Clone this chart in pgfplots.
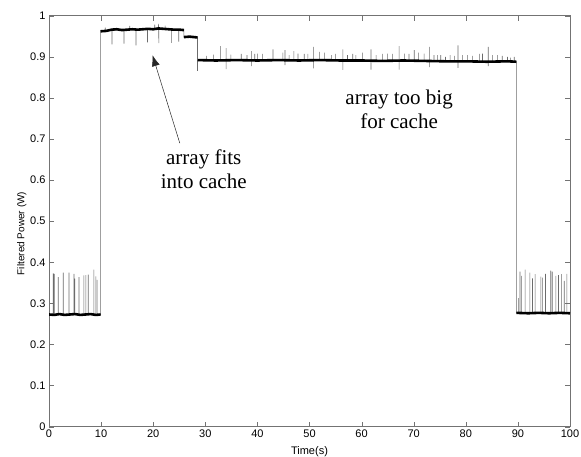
\documentclass[border=0pt]{standalone}
\usepackage{fontspec}
\setmainfont{Liberation Sans}
\newfontfamily\timesfont{Liberation Serif}
\usepackage{pgfplots}
\pgfplotsset{compat=1.18}
\usetikzlibrary{arrows.meta}

\begin{document}
\begin{tikzpicture}
\begin{axis}[
    width=521pt, height=411pt, scale only axis,
    xmin=0, xmax=100, ymin=0, ymax=1,
    xtick={0,10,20,30,40,50,60,70,80,90,100},
    ytick={0,0.1,0.2,0.3,0.4,0.5,0.6,0.7,0.8,0.9,1},
    /pgf/number format/assume math mode=true,
    tick label style={font=\fontsize{11}{13}\selectfont},
    axis line style={black!55},
    major tick style={black!55},
    major tick length=5pt,
    xlabel={Time(s)},
    ylabel={Filtered Power (W)},
    xlabel style={font=\fontsize{11}{13}\selectfont, at={(axis description cs:0.5,-0.0616)}, anchor=center},
    ylabel style={font=\fontsize{10}{12}\selectfont, at={(axis description cs:-0.052,0.47)}, anchor=center},
    unbounded coords=jump,
]

% raw trace: transitions and spikes (thin grey)
\addplot[black!58, line width=0.6pt] table {
x y
0 0.273
0.82 0.273
0.82 0.373
0.82 0.273
1.00 0.273
1.00 0.372
1.00 0.273
1.78 0.273
1.78 0.364
1.78 0.273
2.74 0.273
2.74 0.375
2.74 0.273
3.83 0.273
3.83 0.375
3.83 0.273
4.79 0.273
4.79 0.372
4.79 0.273
4.98 0.273
4.98 0.360
4.98 0.273
5.75 0.273
5.75 0.364
5.75 0.273
6.70 0.273
6.70 0.368
6.70 0.273
7.09 0.273
7.09 0.369
7.09 0.273
7.53 0.273
7.53 0.370
7.53 0.273
8.62 0.273
8.62 0.382
8.62 0.273
9.00 0.273
9.00 0.366
9.00 0.273
9.25 0.273
9.25 0.357
9.25 0.273
9.90 0.273
9.90 0.964
10.8 0.964
10.8 0.971
10.8 0.964
12.1 0.965
12.1 0.930
12.1 0.965
14.4 0.966
14.4 0.932
14.4 0.966
15.5 0.966
15.5 0.975
15.5 0.966
16.7 0.966
16.7 0.928
16.7 0.966
18.9 0.967
18.9 0.935
18.9 0.967
20.3 0.967
20.3 0.978
20.3 0.967
21.0 0.968
21.0 0.980
21.1 0.933
21.1 0.968
22.3 0.967
22.3 0.976
22.3 0.967
23.5 0.966
23.5 0.934
23.5 0.966
24.9 0.966
24.9 0.937
24.9 0.966
25.9 0.966
25.9 0.948
28.5 0.948
28.5 0.866
28.55 0.892
30.2 0.892
30.2 0.902
30.2 0.892
31.6 0.892
31.6 0.905
31.6 0.892
32.9 0.892
32.9 0.926
32.9 0.892
34.0 0.892
34.0 0.921
34.0 0.870
34.0 0.892
34.9 0.892
34.9 0.905
34.9 0.892
36.9 0.892
36.9 0.907
36.9 0.892
38.0 0.892
38.0 0.904
38.0 0.892
38.9 0.892
38.9 0.914
38.9 0.877
38.9 0.892
39.5 0.892
39.5 0.907
39.5 0.892
40.0 0.892
40.0 0.908
40.0 0.892
41.0 0.892
41.0 0.907
41.0 0.892
43.0 0.892
43.0 0.918
43.0 0.892
44.9 0.892
44.9 0.910
44.9 0.892
45.3 0.892
45.3 0.916
45.3 0.880
45.3 0.892
46.1 0.892
46.1 0.904
46.1 0.892
47.0 0.892
47.0 0.914
47.0 0.892
47.8 0.892
47.8 0.908
47.8 0.892
49.0 0.892
49.0 0.907
49.0 0.892
49.7 0.892
49.7 0.907
49.7 0.892
50.8 0.892
50.8 0.924
50.8 0.872
50.8 0.892
51.9 0.892
51.9 0.912
51.9 0.892
52.9 0.892
52.9 0.910
52.9 0.892
54.2 0.891
54.2 0.904
54.2 0.891
55.0 0.891
55.0 0.907
55.0 0.891
56.4 0.891
56.4 0.918
56.4 0.868
56.4 0.891
57.3 0.891
57.3 0.904
57.3 0.891
58.3 0.891
58.3 0.907
58.3 0.891
58.9 0.891
58.9 0.904
58.9 0.891
60.2 0.891
60.2 0.910
60.2 0.891
61.8 0.891
61.8 0.918
61.8 0.869
61.8 0.891
62.8 0.891
62.8 0.904
62.8 0.891
64.0 0.891
64.0 0.907
64.0 0.891
65.0 0.891
65.0 0.908
65.0 0.891
65.9 0.891
65.9 0.907
65.9 0.891
67.2 0.891
67.2 0.926
67.2 0.869
67.2 0.891
68.2 0.891
68.2 0.908
68.2 0.891
69.1 0.891
69.1 0.907
69.1 0.891
70.1 0.890
70.1 0.916
70.1 0.890
70.9 0.890
70.9 0.910
70.9 0.890
72.0 0.890
72.0 0.908
72.0 0.890
73.0 0.890
73.0 0.924
73.0 0.875
73.0 0.890
73.9 0.890
73.9 0.904
73.9 0.890
74.6 0.890
74.6 0.904
74.6 0.890
75.2 0.890
75.2 0.904
75.2 0.890
76.1 0.889
76.1 0.900
76.1 0.889
77.0 0.889
77.0 0.904
77.0 0.889
77.8 0.889
77.8 0.902
77.8 0.889
78.5 0.889
78.5 0.928
78.5 0.873
78.5 0.889
79.4 0.889
79.4 0.904
79.4 0.889
80.3 0.889
80.3 0.904
80.3 0.889
81.3 0.889
81.3 0.902
81.3 0.889
82.6 0.889
82.6 0.907
82.6 0.889
83.2 0.889
83.2 0.908
83.2 0.889
84.3 0.889
84.3 0.924
84.3 0.877
84.3 0.889
85.1 0.889
85.1 0.904
85.1 0.889
86.1 0.889
86.1 0.904
86.1 0.889
87.0 0.889
87.0 0.902
87.0 0.889
88.0 0.889
88.0 0.900
88.0 0.889
88.6 0.889
88.6 0.898
88.6 0.889
89.3 0.889
89.3 0.900
89.3 0.889
89.7 0.889
89.7 0.277
90.1 0.277
90.1 0.313
90.1 0.277
90.4 0.277
90.4 0.377
90.4 0.277
90.7 0.277
90.7 0.367
90.7 0.277
91.4 0.277
91.4 0.382
91.4 0.277
92.3 0.277
92.3 0.375
92.3 0.277
92.8 0.277
92.8 0.361
92.8 0.277
93.3 0.277
93.3 0.371
93.3 0.277
94.4 0.277
94.4 0.365
94.4 0.277
94.7 0.277
94.7 0.363
94.7 0.277
95.3 0.277
95.3 0.372
95.3 0.277
96.3 0.277
96.3 0.380
96.3 0.277
96.6 0.277
96.6 0.377
96.6 0.277
97.3 0.277
97.3 0.367
97.3 0.277
97.8 0.277
97.8 0.369
97.8 0.277
98.4 0.277
98.4 0.371
98.4 0.277
98.9 0.277
98.9 0.355
98.9 0.277
99.4 0.277
99.4 0.372
99.4 0.277
100 0.277
};

% dense noisy levels (thick black)
\addplot[black, line width=2.6pt, line join=round] table {
x y
0 0.273
1 0.272
2 0.274
3 0.272
4 0.273
5 0.274
6 0.272
7 0.273
8 0.274
9 0.272
9.9 0.273
nan nan
9.9 0.962
11 0.963
12 0.966
13 0.967
14 0.965
15 0.966
16 0.967
17 0.966
18 0.967
19 0.968
20 0.967
21 0.969
22 0.968
23 0.967
24 0.966
25 0.966
25.9 0.965
nan nan
25.9 0.948
27 0.949
28.5 0.947
nan nan
28.55 0.892
32 0.891
36 0.892
40 0.891
44 0.892
48 0.891
52 0.892
56 0.891
60 0.891
64 0.890
68 0.891
72 0.890
76 0.889
80 0.889
84 0.888
88 0.889
89.7 0.888
nan nan
89.7 0.277
92 0.276
94 0.277
96 0.276
98 0.277
100 0.276
};

\draw[black!85, line width=0.5pt, -{Latex[length=11pt,width=8pt]}] (axis cs:25.1,0.690) -- (axis cs:19.87,0.904);
\node[font=\timesfont\fontsize{21}{24}\selectfont, align=center] at (axis cs:29.7,0.627) {array fits\\into cache};
\node[font=\timesfont\fontsize{21}{24}\selectfont, align=center] at (axis cs:67.2,0.773) {array too big\\for cache};
\end{axis}
\pgfresetboundingbox
\useasboundingbox ([xshift=-49pt,yshift=-30.3pt]current axis.south west) rectangle ([xshift=11pt,yshift=15.7pt]current axis.north east);
\end{tikzpicture}
\end{document}
